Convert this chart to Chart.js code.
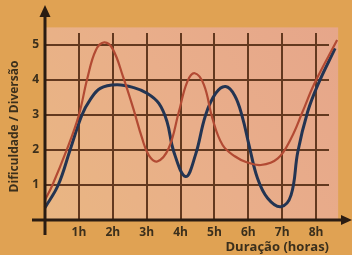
<!DOCTYPE html>
<html>
<head>
<meta charset="utf-8">
<script src="https://cdn.jsdelivr.net/npm/chart.js@4/dist/chart.umd.min.js"></script>
<style>
  html, body { margin: 0; padding: 0; background: #e3a457; }
  #wrap { width: 352px; height: 255px; position: relative; }
</style>
</head>
<body>
<div id="wrap"><canvas id="c" width="352" height="255"></canvas></div>
<script>
// Data (hours, level 0-5)
const redHours   = [0, 0.22, 0.64, 1.0, 1.25, 1.5, 1.75, 2.0, 2.3, 2.6, 2.86, 3.06, 3.31, 3.65, 3.95, 4.2, 4.42, 4.69, 4.94, 5.24, 5.6, 5.95, 6.37, 6.87, 7.26, 7.6, 7.95, 8.62];
const redValues  = [0.57, 1.0, 2.0, 3.0, 4.05, 4.85, 5.07, 4.88, 4.1, 3.2, 2.35, 1.85, 1.67, 2.05, 3.09, 3.95, 4.19, 3.86, 2.9, 2.14, 1.82, 1.65, 1.57, 1.76, 2.33, 3.09, 3.9, 5.14];
const blueHours  = [0, 0.39, 0.74, 1.09, 1.33, 1.63, 2.12, 2.62, 3.01, 3.36, 3.6, 3.8, 4.15, 4.44, 4.74, 5.04, 5.33, 5.6, 5.82, 6.02, 6.27, 6.57, 6.96, 7.26, 7.46, 7.75, 8.05, 8.56];
const blueValues = [0.35, 1.0, 2.0, 3.0, 3.43, 3.76, 3.86, 3.78, 3.62, 3.33, 2.81, 1.95, 1.24, 1.86, 3.0, 3.62, 3.81, 3.55, 2.95, 2.14, 1.19, 0.62, 0.38, 0.71, 1.95, 3.09, 3.86, 4.9];
const xTickLabels = ['', '1h', '2h', '3h', '4h', '5h', '6h', '7h', '8h'];
const yTickLabels = ['', '1', '2', '3', '4', '5'];
const xTitle = 'Duração (horas)';
const yTitle = 'Dificuldade / Diversão';

const toPts = (xs, ys) => xs.map((x, i) => ({ x: x, y: ys[i] }));

const decor = {
  id: 'decor',
  beforeDraw(chart) {
    const ctx = chart.ctx;
    const xs = chart.scales.x, ys = chart.scales.y;
    ctx.save();
    ctx.fillStyle = '#e0a253';
    ctx.fillRect(0, 0, chart.width, chart.height);
    const x0 = xs.getPixelForValue(0), y0 = ys.getPixelForValue(0);
    const right = xs.getPixelForValue(8.65), top = ys.getPixelForValue(5.5);
    const g = ctx.createLinearGradient(x0, y0, right, top);
    g.addColorStop(0, '#e9b682');
    g.addColorStop(0.5, '#e9ae8a');
    g.addColorStop(1, '#e6a68a');
    ctx.fillStyle = g;
    ctx.fillRect(x0, top, right - x0, y0 - top);
    ctx.restore();
  },
  afterDatasetsDraw(chart) {
    const ctx = chart.ctx;
    const xs = chart.scales.x, ys = chart.scales.y;
    const x0 = xs.getPixelForValue(0), y0 = ys.getPixelForValue(0);
    ctx.save();
    ctx.strokeStyle = '#2a1c12';
    ctx.fillStyle = '#2a1c12';
    ctx.lineWidth = 3;
    // y axis
    ctx.beginPath();
    ctx.moveTo(x0, 235);
    ctx.lineTo(x0, 14);
    ctx.stroke();
    ctx.beginPath();
    ctx.moveTo(x0, 5);
    ctx.lineTo(x0 - 5.5, 17);
    ctx.lineTo(x0 + 5.5, 17);
    ctx.closePath();
    ctx.fill();
    // x axis
    ctx.beginPath();
    ctx.moveTo(32, y0);
    ctx.lineTo(343, y0);
    ctx.stroke();
    ctx.beginPath();
    ctx.moveTo(352, y0);
    ctx.lineTo(341, y0 - 5);
    ctx.lineTo(341, y0 + 5);
    ctx.closePath();
    ctx.fill();
    ctx.restore();
  }
};

new Chart(document.getElementById('c'), {
  type: 'line',
  data: {
    datasets: [
      {
        label: 'Dificuldade',
        data: toPts(redHours, redValues),
        borderColor: '#b24a33',
        borderWidth: 2.2,
        pointRadius: 0,
        tension: 0.4,
        fill: false,
        clip: false
      },
      {
        label: 'Diversão',
        data: toPts(blueHours, blueValues),
        borderColor: '#233452',
        borderWidth: 3,
        pointRadius: 0,
        tension: 0.4,
        fill: false,
        clip: false
      }
    ]
  },
  options: {
    responsive: false,
    animation: false,
    devicePixelRatio: 1,
    layout: { padding: { left: 0, top: 33, right: 23, bottom: 0 } },
    plugins: { legend: { display: false }, tooltip: { enabled: false } },
    scales: {
      x: {
        type: 'linear',
        min: 0,
        max: 8.38,
        afterFit(s) { s.height = 35; },
        border: { display: false },
        grid: { color: '#63391f', lineWidth: 2, drawTicks: false },
        ticks: {
          stepSize: 1,
          includeBounds: false,
          padding: 5,
          color: '#3b2f1c',
          font: { family: 'Open Sans', weight: 'bold', size: 12 },
          callback: (v) => xTickLabels[v] !== undefined ? xTickLabels[v] : ''
        },
        title: {
          display: true,
          text: xTitle,
          align: 'end',
          color: '#3b2f1c',
          padding: { top: 0, bottom: 0 },
          font: { family: 'Open Sans', weight: 'bold', size: 13 }
        }
      },
      y: {
        type: 'linear',
        min: 0,
        max: 5.34,
        afterFit(s) { s.width = 45; },
        border: { display: false },
        grid: { color: '#63391f', lineWidth: 2, drawTicks: false },
        ticks: {
          stepSize: 1,
          includeBounds: false,
          padding: 6,
          color: '#3b2f1c',
          font: { family: 'Open Sans', weight: 'bold', size: 12 },
          callback: (v) => yTickLabels[v] !== undefined ? yTickLabels[v] : ''
        },
        title: {
          display: true,
          text: yTitle,
          color: '#3b2f1c',
          padding: { top: 7, bottom: 0 },
          font: { family: 'Open Sans', weight: 'bold', size: 12 }
        }
      }
    }
  },
  plugins: [decor]
});
</script>
</body>
</html>
